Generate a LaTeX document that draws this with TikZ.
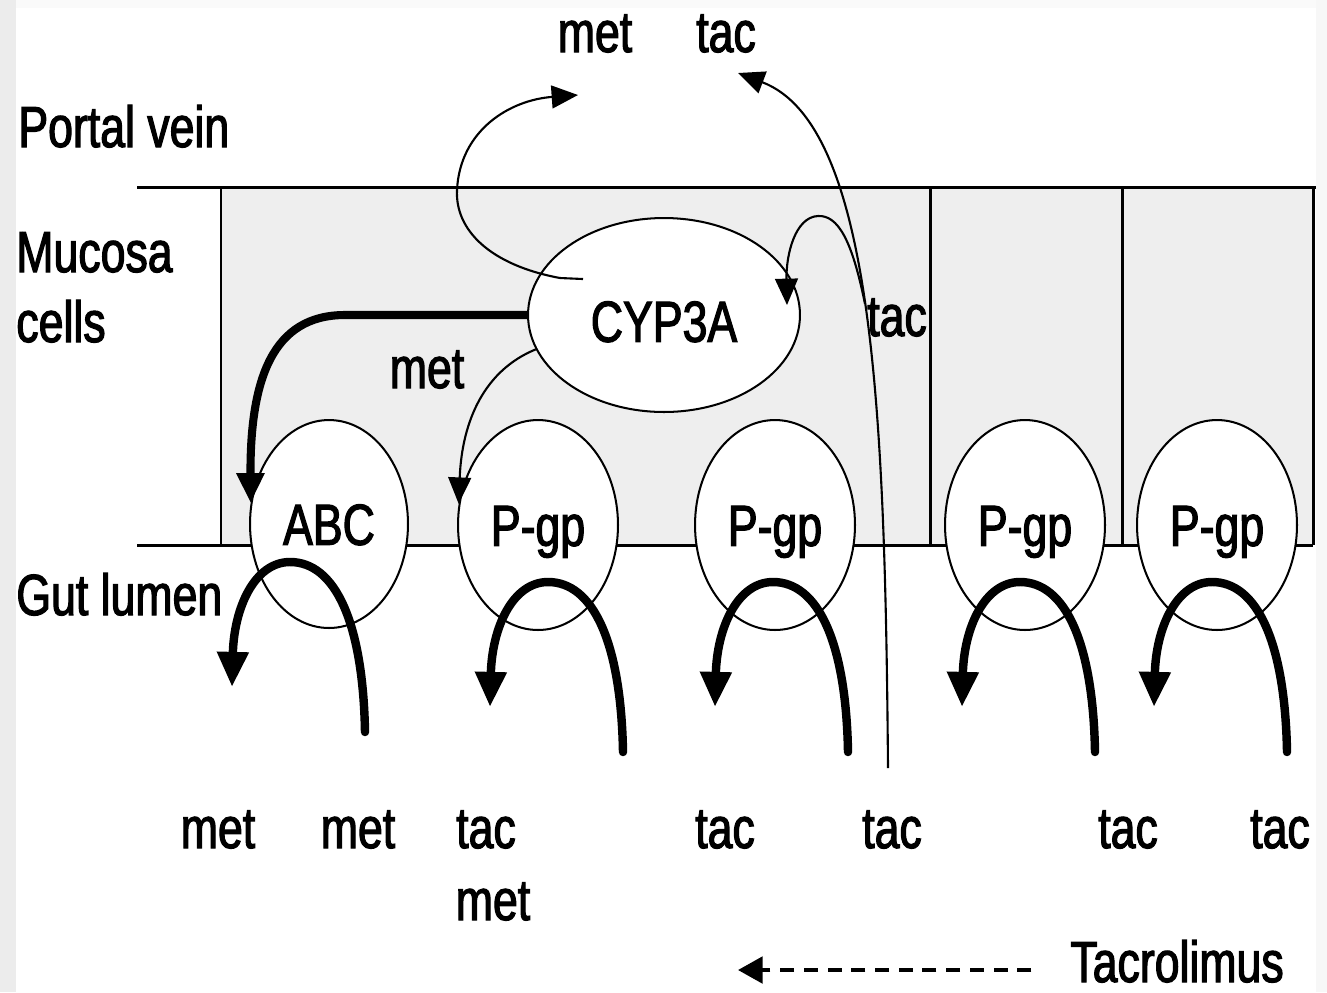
\documentclass[tikz,border=0pt]{standalone}
\usepackage{fontspec}
\setmainfont{Liberation Sans}[FakeStretch=0.77,FakeBold=2]
\usetikzlibrary{shapes.geometric,arrows.meta,calc}

\tikzset{
  pics/efflux/.style={code={
    \draw[bigflow] (75,170) .. controls (73,60) and (45,0) .. (0,0)
                   .. controls (-35,0) and (-56,45) .. (-58,125);
  }}
}

\begin{document}
\begin{tikzpicture}[x=0.02cm,y=-0.02cm,
  every node/.style={font=\fontsize{33}{38}\selectfont, inner sep=0pt},
  lbl/.style={anchor=base},
  side/.style={anchor=base west},
  membrane/.style={line width=1.7pt},
  transporter/.style={ellipse, draw, line width=1.15pt, fill=white,
    minimum width=3.2cm, minimum height=4.2cm, text height=23.7pt, text depth=0pt},
  enzyme/.style={ellipse, draw, line width=1.15pt, fill=white,
    minimum width=5.44cm, minimum height=3.88cm, text height=23.7pt, text depth=0pt},
  flow/.style={line width=1.2pt, -{Triangle[length=15pt,width=13pt]}},
  heavy/.style={line width=4.6pt, -{Triangle[length=17pt,width=15pt]}},
  bigflow/.style={line width=4.8pt, line cap=round, -{Triangle[length=20pt,width=17pt]}},
  legend/.style={line width=2.3pt, dash pattern=on 8pt off 5.5pt, -{Triangle[length=14pt,width=15pt]}}
]
\useasboundingbox (0,0) rectangle (1327,992);

% page frame
\fill[gray!15] (0,0) rectangle (16,992);
\fill[gray!6] (1316,0) rectangle (1327,992);
\fill[gray!4] (16,0) rectangle (1316,8);
\fill[white] (16,8) rectangle (1316,992);

% mucosa cells
\fill[gray!13] (221,187) rectangle (1313,545);
\draw[membrane] (137,187) -- (1316,187);
\draw[membrane] (137,545) -- (1313,545);
\foreach \xc in {221,930,1122,1313}
  \draw[membrane] (\xc,187) -- (\xc,545);

% region labels
\node[side] (pv) at (18,147) {Portal vein};
\node[side] (muc) at (16,272) {Mucosa};
\node[side] (cells) at (16,342) {cells};
\node[side] (gut) at (16,615) {Gut lumen};

% enzyme and transporters
\node[enzyme] (cyp) at (664,315) {\raisebox{-3.4pt}{CYP3A}};
\node[transporter, minimum width=3.16cm, minimum height=4.16cm] (abc) at (329,524) {ABC};
\node[transporter] (p1) at (538,525) {P-gp};
\node[transporter] (p2) at (775,525) {P-gp};
\node[transporter] (p3) at (1025,525) {P-gp};
\node[transporter] (p4) at (1217,525) {P-gp};

% labels of species
\node[lbl] (metTop) at (595,52) {met};
\node[lbl] (tacTop) at (726,52) {tac};
\node[lbl] (tacSide) at (897,336) {tac};
\node[lbl] (metSide) at (427,388) {met};
\node[lbl] (m1) at (218,848) {met};
\node[lbl] (m2) at (358,848) {met};
\node[lbl] (t1) at (486,848) {tac};
\node[lbl] (m3) at (493,920) {met};
\node[lbl] (t2) at (725,848) {tac};
\node[lbl] (t3) at (892,848) {tac};
\node[lbl] (t4) at (1128,848) {tac};
\node[lbl] (t5) at (1280,848) {tac};

% free ends of the flows
\coordinate (cypTick) at (583,279);
\coordinate (metTip) at (578,95);
\coordinate (tacIn) at (888,768);
\coordinate (tacOut) at (738,73);
\coordinate (tacBranch) at (865,304);
\coordinate (cypIn) at (787,305);

% metabolite leaving to the portal vein
\draw[flow] (cypTick) -- (560,278) .. controls (490,265) and (455,230) .. (457,190)
            .. controls (460,130) and (510,100) .. (metTip);

% tacrolimus absorbed through the mucosa
\draw[flow] (tacIn) .. controls (885,420) and (875,125) .. (tacOut);

% tacrolimus taken up by CYP3A
\draw[flow] (tacBranch) .. controls (852,240) and (838,215) .. (818,216)
            .. controls (795,217) and (786,255) .. (cypIn);

% metabolite routed to ABC and P-gp
\draw[heavy] (cyp.west) -- (345,315) .. controls (272,315) and (250,380) .. (abc.165);
\draw[flow] (cyp.195) .. controls (485,370) and (462,420) .. (p1.165);

% efflux back into the gut lumen
\pic at ($(abc)+(-39,38)$) {efflux};
\pic at ($(p1)+(10,57)$) {efflux};
\pic at ($(p2)+(-2,57)$) {efflux};
\pic at ($(p3)+(-5,57)$) {efflux};
\pic at ($(p4)+(-5,57)$) {efflux};

% legend
\node[lbl] (tacro) at (1177,982) {Tacrolimus};
\coordinate (legTip) at (738,970);
\draw[legend, shorten <=22pt] (tacro.west |- legTip) -- (legTip);
\end{tikzpicture}
\end{document}
